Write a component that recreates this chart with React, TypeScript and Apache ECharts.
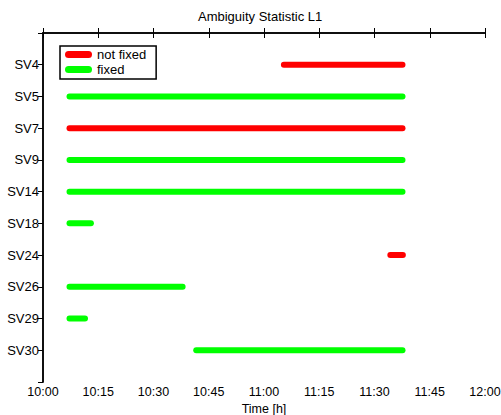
import React, { useEffect, useRef } from "react";
import * as echarts from "echarts";

const satellites = ["SV4", "SV5", "SV7", "SV9", "SV14", "SV18", "SV24", "SV26", "SV29", "SV30"];
// minutes after 10:00
const segStart = [65.4, 7.2, 7.2, 7.2, 7.2, 7.2, 94.3, 7.2, 7.2, 41.6];
const segEnd = [97.6, 97.6, 97.6, 97.6, 97.6, 13.0, 97.7, 37.9, 11.4, 97.6];
const segFixed = [false, true, false, true, true, true, false, true, true, true];
const xTicksMin = 0;
const xTicksMax = 120;
const xTickStep = 15;

const FONT = "'Liberation Sans', Arial, sans-serif";
const RED = "#ff0000";
const GREEN = "#00ff00";
const capsule = "path://M3.5,0 L23.5,0 A3.5,3.5 0 0 1 23.5,7 L3.5,7 A3.5,3.5 0 0 1 3.5,0 Z";

function fmtTime(v: number) {
  const h = 10 + Math.floor(v / 60);
  const m = Math.round(v % 60);
  return `${h}:${m < 10 ? "0" + m : m}`;
}

export default function App() {
  const ref = useRef<HTMLDivElement>(null);
  useEffect(() => {
    if (!ref.current) return;
    const chart = echarts.init(ref.current, undefined, { renderer: "svg" });
    const axisLine = { show: true, lineStyle: { color: "#000", width: 1.5 } };
    const axisTick = { show: true, inside: true, length: 5, lineStyle: { color: "#000", width: 1 } };
    const series = satellites.map((sv, i) => {
      const color = segFixed[i] ? GREEN : RED;
      return {
        type: "line",
        name: segFixed[i] ? "fixed" : "not fixed",
        data: [
          [segStart[i], i + 1],
          [segEnd[i], i + 1],
        ],
        symbol: "none",
        silent: true,
        itemStyle: { color },
        lineStyle: { color, width: 6, cap: "round" },
      };
    });
    chart.setOption({
      animation: false,
      textStyle: { fontFamily: FONT },
      title: {
        text: "Ambiguity Statistic L1",
        left: 198,
        top: 10,
        padding: 0,
        textStyle: { fontFamily: FONT, fontSize: 13, fontWeight: "normal", color: "#000" },
      },
      legend: {
        orient: "vertical",
        left: 60,
        top: 46,
        padding: [2, 10, 3, 5],
        itemGap: 2,
        itemWidth: 27,
        itemHeight: 7,
        borderColor: "#000",
        borderWidth: 1.5,
        backgroundColor: "#fff",
        textStyle: { fontFamily: FONT, fontSize: 13, color: "#000" },
        data: [
          { name: "not fixed", icon: capsule, itemStyle: { color: RED } },
          { name: "fixed", icon: capsule, itemStyle: { color: GREEN } },
        ],
      },
      grid: { left: 43, right: 16, top: 33, bottom: 33, containLabel: false, outerBoundsMode: "none" },
      xAxis: [
        {
          type: "value",
          min: xTicksMin,
          max: xTicksMax,
          interval: xTickStep,
          position: "bottom",
          name: "Time [h]",
          nameLocation: "middle",
          nameGap: 20,
          nameTextStyle: { fontFamily: FONT, fontSize: 12.5, color: "#000" },
          axisLine,
          axisTick,
          splitLine: { show: false },
          axisLabel: { formatter: (v: number) => fmtTime(v), fontFamily: FONT, fontSize: 12.5, color: "#000", margin: 3 },
        },
        {
          type: "value",
          min: xTicksMin,
          max: xTicksMax,
          interval: xTickStep,
          position: "top",
          axisLine,
          axisTick,
          splitLine: { show: false },
          axisLabel: { show: false },
        },
      ],
      yAxis: [
        {
          type: "value",
          min: 0,
          max: satellites.length + 1,
          interval: 1,
          inverse: true,
          position: "left",
          axisLine,
          axisTick: { show: true, inside: false, length: 4, lineStyle: { color: "#000", width: 1 } },
          splitLine: { show: false },
          axisLabel: {
            formatter: (v: number) => satellites[v - 1] ?? "",
            fontFamily: FONT,
            fontSize: 13,
            color: "#000",
            margin: 4,
          },
        },
        {
          type: "value",
          min: 0,
          max: satellites.length + 1,
          interval: 1,
          inverse: true,
          position: "right",
          axisLine,
          axisTick,
          splitLine: { show: false },
          axisLabel: { show: false },
        },
      ],
      series,
    });
    return () => chart.dispose();
  }, []);
  return (
    <div
      ref={ref}
      style={{ position: "fixed", left: 0, top: 0, width: 501, height: 415, background: "#fff" }}
    />
  );
}
